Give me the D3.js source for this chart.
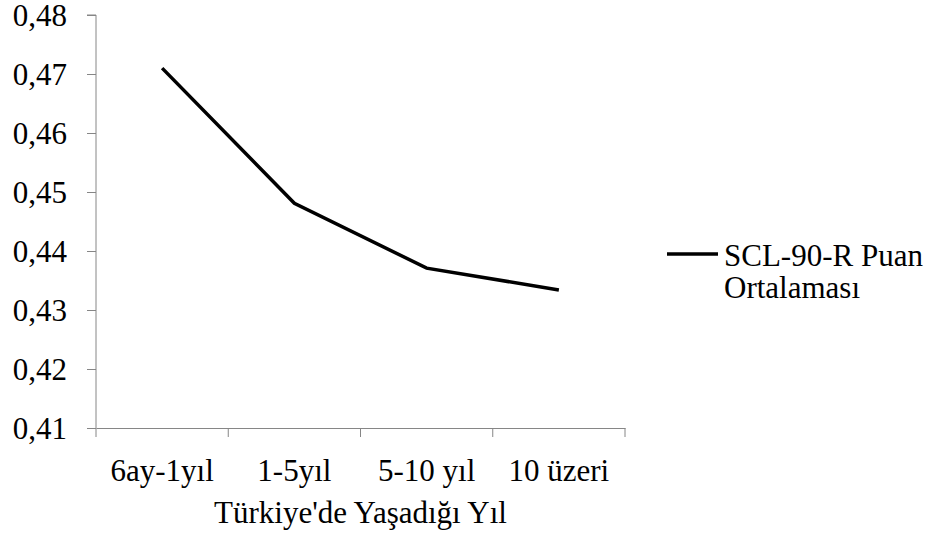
<!DOCTYPE html>
<html><head><meta charset="utf-8">
<script src="https://cdn.jsdelivr.net/npm/d3@7"></script>
<style>body{margin:0;background:#fff}svg{display:block}svg text{font-family:"Liberation Serif","Times New Roman",serif !important}</style>
</head><body><svg width="935" height="533"></svg>
<script>
const categories = ["6ay-1yıl", "1-5yıl", "5-10 yıl", "10 üzeri"];
const values = [0.471, 0.4481, 0.4371, 0.4334];
const yTicks = [0.41, 0.42, 0.43, 0.44, 0.45, 0.46, 0.47, 0.48];
const seriesName = ["SCL-90-R Puan", "Ortalaması"];
const xTitle = "Türkiye'de Yaşadığı Yıl";

const svg = d3.select("svg");
const x = d3.scaleBand().domain(categories).range([96, 625]);
const y = d3.scaleLinear().domain([0.41, 0.48]).range([428, 15]);
const axisColor = "#868686";
const fs = 31;
const ff = "Liberation Serif";

const gy = svg.append("g").attr("transform", "translate(96,0)")
  .call(d3.axisLeft(y).tickValues(yTicks).tickSize(9).tickPadding(20)
    .tickFormat(d => d3.format(".2f")(d).replace(".", ",")));
gy.attr("font-family", ff).attr("font-size", fs);
gy.selectAll("text").attr("fill", "#000").attr("dy", "0.33em");

const gx = svg.append("g").attr("transform", "translate(0,428)")
  .call(d3.axisBottom(x).tickSize(0).tickPadding(31));
gx.attr("font-family", ff).attr("font-size", fs);
gx.selectAll("text").attr("fill", "#000").attr("dy", "0.71em");
const bounds = categories.map(c => x(c)).concat([x.range()[1]]);
gx.selectAll(".bt").data(bounds).enter().append("line")
  .attr("x1", d => d).attr("x2", d => d).attr("y1", 0).attr("y2", 9).attr("stroke", axisColor);

svg.selectAll(".domain").attr("stroke", axisColor);
svg.selectAll(".tick line").attr("stroke", axisColor);
gy.select(".domain").attr("d", `M-9,${y(0.48)}H0V${y(0.41)}`);

const line = d3.line().x((d, i) => x(categories[i]) + x.bandwidth() / 2).y(d => y(d));
svg.append("path").datum(values).attr("d", line).attr("fill", "none")
  .attr("stroke", "#000").attr("stroke-width", 3.5);

svg.append("text").attr("x", (x.range()[0] + x.range()[1]) / 2).attr("y", 523)
  .attr("text-anchor", "middle").attr("font-family", ff).attr("font-size", fs).text(xTitle);

const lg = svg.append("g");
lg.append("line").attr("x1", 667).attr("x2", 718).attr("y1", 254).attr("y2", 254)
  .attr("stroke", "#000").attr("stroke-width", 3.5);
lg.selectAll("text.leg").data(seriesName).enter().append("text")
  .attr("x", 724).attr("y", (d, i) => 266 + i * 32).attr("font-family", ff).attr("font-size", fs).text(d => d);
</script></body></html>
